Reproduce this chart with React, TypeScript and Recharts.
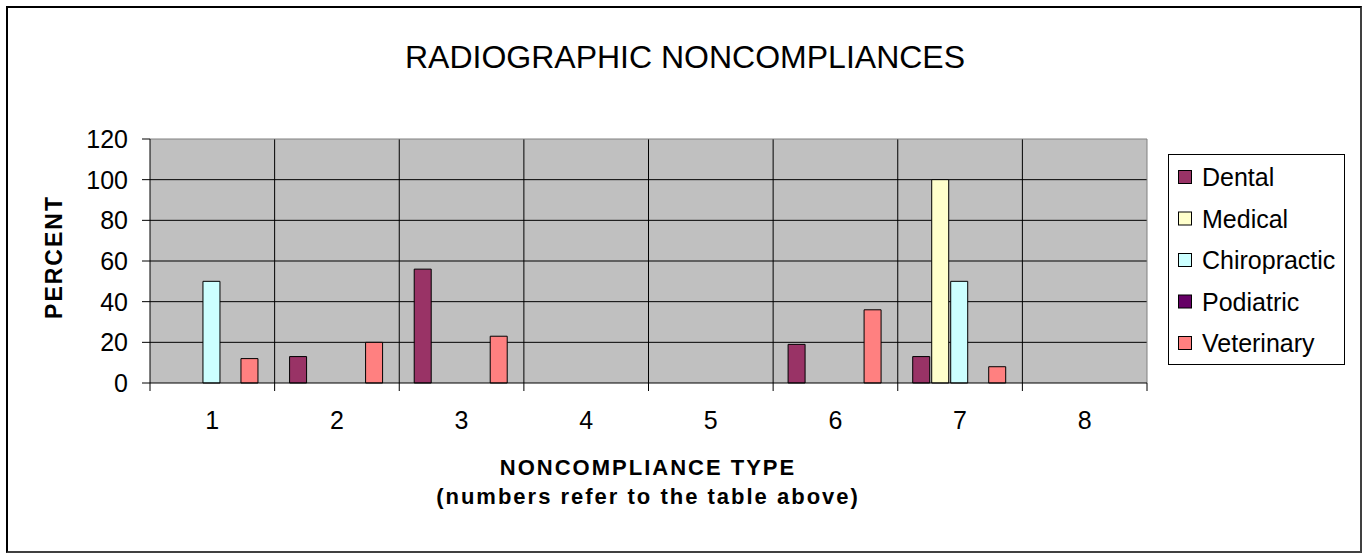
import React from 'react';
import { BarChart, Bar, XAxis, YAxis, CartesianGrid, Legend } from 'recharts';

const categories = ['1', '2', '3', '4', '5', '6', '7', '8'];
const dental = [0, 13, 56, 0, 0, 19, 13, 0];
const medical = [0, 0, 0, 0, 0, 0, 100, 0];
const chiropractic = [50, 0, 0, 0, 0, 0, 50, 0];
const podiatric = [0, 0, 0, 0, 0, 0, 0, 0];
const veterinary = [12, 20, 23, 0, 0, 36, 8, 0];
const yTicks = [0, 20, 40, 60, 80, 100, 120];
const seriesNames = ['Dental', 'Medical', 'Chiropractic', 'Podiatric', 'Veterinary'];
const seriesColors = ['#993366', '#FFFFCC', '#CCFFFF', '#660066', '#FF8080'];
const seriesValues = [dental, medical, chiropractic, podiatric, veterinary];

const titleText = 'RADIOGRAPHIC NONCOMPLIANCES';
const yTitle = 'PERCENT';
const xTitle1 = 'NONCOMPLIANCE TYPE';
const xTitle2 = '(numbers refer to the table above)';

const FONT = '"Liberation Sans", Arial, Helvetica, sans-serif';
const W = 1363;
const H = 554;
const MARGIN = { top: 139, right: 216, bottom: 131, left: 0 };
const Y_AXIS_W = 150;
const X_AXIS_H = 40;

const data = categories.map((c, i) => {
  const row: any = { cat: c };
  seriesNames.forEach((n, j) => {
    row[n] = seriesValues[j][i];
  });
  return row;
});

const yMax = yTicks[yTicks.length - 1];

const LegendBox = () => (
  <svg width={177} height={211} style={{ display: 'block' }}>
    <rect x={0.5} y={0.5} width={176} height={210} fill="#fff" stroke="#000" strokeWidth={1} />
    {seriesNames.map((n, i) => (
      <g key={n}>
        <rect x={10.5} y={16.5 + i * 41.5} width={13} height={13} fill={seriesColors[i]} stroke="#000" strokeWidth={1} />
        <text x={34} y={32 + i * 41.5} fontFamily={FONT} fontSize={25} fill="#000">
          {n}
        </text>
      </g>
    ))}
  </svg>
);

const XTick = (props: any) => {
  const { x, y, payload, index } = props;
  const plotW = W - MARGIN.left - MARGIN.right - Y_AXIS_W;
  const half = payload && typeof payload.offset === 'number' && payload.offset > 0 ? payload.offset : plotW / categories.length / 2;
  const isLast = index === categories.length - 1;
  return (
    <g>
      <line x1={x - half} x2={x - half} y1={y} y2={y + 8} stroke="#000" strokeWidth={1} />
      {isLast ? <line x1={x + half} x2={x + half} y1={y} y2={y + 8} stroke="#000" strokeWidth={1} /> : null}
      <text x={x} y={y + 28} dy="0.71em" textAnchor="middle" fontFamily={FONT} fontSize={25} fill="#000">
        {payload.value}
      </text>
    </g>
  );
};

export default function App() {
  return (
    <div style={{ position: 'absolute', left: 0, top: 0, width: W, height: H, background: '#fff' }}>
      <div
        style={{
          position: 'absolute',
          left: 6,
          top: 6,
          width: 1356,
          height: 547,
          boxSizing: 'border-box',
          borderLeft: '2px solid #000',
          borderTop: '2px solid #000',
          borderRight: '2px solid #404040',
          borderBottom: '2px solid #404040',
        }}
      />
      <div style={{ position: 'absolute', left: 0, top: 0 }}>
        <BarChart
          width={W}
          height={H}
          data={data}
          margin={MARGIN}
          barCategoryGap="12%"
          barGap={2}
        >
          <CartesianGrid
            fill="#C0C0C0"
            fillOpacity={1}
            stroke="#000"
            strokeWidth={1}
            horizontalCoordinatesGenerator={({ offset }: any) =>
              yTicks.slice(1, -1).map((v) => offset.top + offset.height * (1 - v / yMax))
            }
            verticalCoordinatesGenerator={({ offset }: any) =>
              categories.slice(1).map((_, i) => offset.left + (offset.width * (i + 1)) / categories.length)
            }
          />
          <CartesianGrid
            fill="none"
            stroke="#808080"
            strokeWidth={1}
            horizontalCoordinatesGenerator={({ offset }: any) => [offset.top]}
            verticalCoordinatesGenerator={({ offset }: any) => [offset.left + offset.width]}
          />
          <XAxis
            dataKey="cat"
            axisLine={{ stroke: '#000', strokeWidth: 1 }}
            tickLine={false}
            tickSize={0}
            tickMargin={0}
            height={X_AXIS_H}
            interval={0}
            tick={<XTick />}
          />
          <YAxis
            domain={[0, yMax]}
            ticks={yTicks}
            interval={0}
            width={Y_AXIS_W}
            axisLine={{ stroke: '#000', strokeWidth: 1 }}
            tickLine={{ stroke: '#000', strokeWidth: 1 }}
            tickSize={8}
            tickMargin={14}
            tick={{ fontFamily: FONT, fontSize: 25, fill: '#000' }}
          />
          <Legend
            layout="vertical"
            align="center"
            verticalAlign="middle"
            wrapperStyle={{ position: 'absolute', left: 1168, top: 154, width: 177, height: 211 }}
            content={() => <LegendBox />}
          />
          {seriesNames.map((n, i) => (
            <Bar
              key={n}
              dataKey={n}
              fill={seriesColors[i]}
              stroke="#000"
              strokeWidth={1}
              isAnimationActive={false}
            />
          ))}
        </BarChart>
      </div>
      <svg
        width={W}
        height={H}
        style={{ position: 'absolute', left: 0, top: 0, pointerEvents: 'none' }}
      >
        <text x={685} y={68} textAnchor="middle" fontFamily={FONT} fontSize={32} fill="#000">
          {titleText}
        </text>
        <text
          x={62}
          y={257}
          textAnchor="middle"
          transform="rotate(-90, 62, 257)"
          fontFamily={FONT}
          fontSize={23}
          fontWeight="bold"
          letterSpacing={2}
          fill="#000"
        >
          {yTitle}
        </text>
        <text x={648} y={475} textAnchor="middle" fontFamily={FONT} fontSize={22} fontWeight="bold" letterSpacing={2} fill="#000">
          {xTitle1}
        </text>
        <text x={648} y={504} textAnchor="middle" fontFamily={FONT} fontSize={22} fontWeight="bold" letterSpacing={2} fill="#000">
          {xTitle2}
        </text>
      </svg>
    </div>
  );
}
